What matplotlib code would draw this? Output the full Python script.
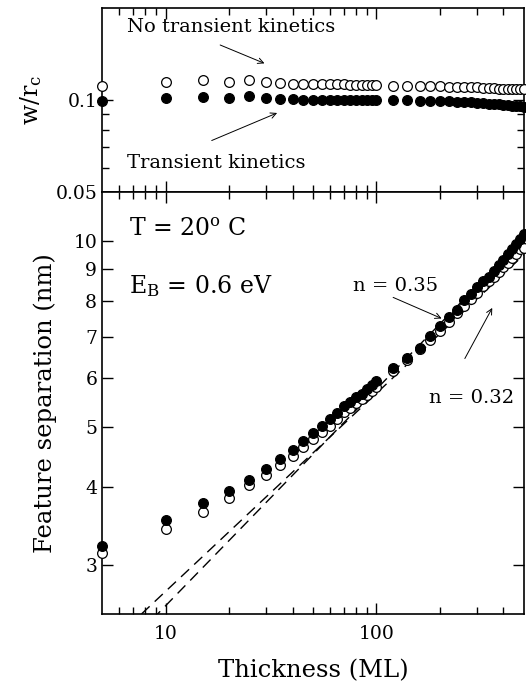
import numpy as np
import matplotlib
matplotlib.use('Agg')
import matplotlib.pyplot as plt
from matplotlib.ticker import FixedLocator, FixedFormatter, NullFormatter

plt.rcParams['font.family'] = ['DejaVu Serif']
plt.rcParams['mathtext.fontset'] = 'dejavuserif'

# film thickness (ML)
thickness = [5, 10, 15, 20, 25, 30, 35, 40, 45, 50, 55, 60, 65, 70, 75, 80, 85, 90, 95, 100,
             120, 140, 160, 180, 200, 220, 240, 260, 280, 300, 320, 340, 360, 380, 400,
             420, 440, 460, 480, 500]

# w/r_c ratio
ratio_no_transient = [0.111, 0.115, 0.116, 0.115, 0.116, 0.115, 0.114, 0.113, 0.113, 0.113,
                      0.1128, 0.1125, 0.1125, 0.1125, 0.1122, 0.112, 0.112, 0.112, 0.112, 0.112,
                      0.1115, 0.1115, 0.1113, 0.111, 0.111, 0.1105, 0.1105, 0.110, 0.110, 0.110,
                      0.1095, 0.1095, 0.1093, 0.109, 0.109, 0.1089, 0.1088, 0.1087, 0.1086, 0.1085]
ratio_transient = [0.0993, 0.1017, 0.1022, 0.1017, 0.1028, 0.1017, 0.101, 0.101, 0.1003, 0.1002,
                   0.1000, 0.1000, 0.0999, 0.0999, 0.0998, 0.0998, 0.0998, 0.0998, 0.0998, 0.0998,
                   0.1002, 0.1002, 0.0996, 0.0994, 0.0993, 0.0991, 0.0989, 0.0986, 0.0983, 0.098,
                   0.0977, 0.0974, 0.0971, 0.0968, 0.0965, 0.0962, 0.0959, 0.0956, 0.0953, 0.095]

# feature separation (nm)
sep_transient = [3.22, 3.54, 3.77, 3.94, 4.11, 4.28, 4.45, 4.60, 4.76, 4.90, 5.03, 5.16, 5.28,
                 5.41, 5.50, 5.59, 5.67, 5.76, 5.85, 5.94, 6.24, 6.48, 6.72, 7.02, 7.29, 7.54,
                 7.75, 8.02, 8.22, 8.43, 8.61, 8.76, 8.94, 9.14, 9.32, 9.52, 9.70, 9.88, 10.06, 10.25]
sep_no_transient = [3.13, 3.43, 3.65, 3.85, 4.03, 4.19, 4.35, 4.49, 4.65, 4.78, 4.91, 5.03, 5.16,
                    5.29, 5.38, 5.47, 5.55, 5.64, 5.73, 5.81, 6.16, 6.42, 6.68, 6.92, 7.16, 7.41,
                    7.64, 7.85, 8.07, 8.25, 8.46, 8.61, 8.73, 8.91, 9.09, 9.23, 9.40, 9.52, 9.70, 9.76]

# power law fits d = A * h^n
fit_exponent = [0.35, 0.32]
fit_prefactor = [1.15, 1.30]

fig = plt.figure(figsize=(5.26, 6.88), dpi=100)
ax1 = fig.add_axes([0.194, 0.721, 0.802, 0.267])
ax2 = fig.add_axes([0.194, 0.108, 0.802, 0.613], sharex=ax1)

ms = 7.0
ax1.plot(thickness, ratio_no_transient, 'o', ms=ms, mfc='white', mec='black', mew=0.9, clip_on=False, zorder=3)
ax1.plot(thickness, ratio_transient, 'o', ms=ms, mfc='black', mec='black', mew=0.9, clip_on=False, zorder=3)

h = np.array([5.0, 500.0])
for n, a in zip(fit_exponent, fit_prefactor):
    ax2.plot(h, a * h ** n, color='black', lw=1.0, dashes=(8, 5), zorder=1)
ax2.plot(thickness, sep_no_transient, 'o', ms=ms, mfc='white', mec='black', mew=0.9, clip_on=False, zorder=3)
ax2.plot(thickness, sep_transient, 'o', ms=ms, mfc='black', mec='black', mew=0.9, clip_on=False, zorder=4)

for ax in (ax1, ax2):
    ax.set_xscale('log')
    ax.set_yscale('log')
    for s in ax.spines.values():
        s.set_linewidth(1.2)
    ax.tick_params(which='both', direction='in', top=True, right=True, width=1.0, labelsize=13.5)
    ax.tick_params(which='major', length=8)
    ax.tick_params(which='minor', length=5)

ax1.set_xlim(5, 500)
ax1.set_ylim(0.05, 0.2)
ax1.yaxis.set_major_locator(FixedLocator([0.05, 0.1]))
ax1.yaxis.set_major_formatter(FixedFormatter(['0.05', '0.1']))
ax1.yaxis.set_minor_locator(FixedLocator([0.06, 0.07, 0.08, 0.09]))
ax1.yaxis.set_minor_formatter(NullFormatter())
ax1.tick_params(labelbottom=False)
ax1.set_ylabel(r'w/r$_\mathrm{c}$', fontsize=17, labelpad=8)

ax2.set_ylim(2.5, 12)
yt = [3, 4, 5, 6, 7, 8, 9, 10]
ax2.yaxis.set_major_locator(FixedLocator(yt))
ax2.yaxis.set_major_formatter(FixedFormatter([str(v) for v in yt]))
ax2.yaxis.set_minor_locator(FixedLocator([]))
ax2.yaxis.set_minor_formatter(NullFormatter())
ax2.xaxis.set_major_locator(FixedLocator([10, 100]))
ax2.xaxis.set_major_formatter(FixedFormatter(['10', '100']))
ax2.xaxis.set_minor_locator(FixedLocator([6, 7, 8, 9, 20, 30, 40, 50, 60, 70, 80, 90,
                                          200, 300, 400]))
ax2.xaxis.set_minor_formatter(NullFormatter())
ax2.tick_params(axis='x', pad=8)
ax2.set_xlabel('Thickness (ML)', fontsize=17.5, labelpad=12)
ax2.set_ylabel('Feature separation (nm)', fontsize=17.5, labelpad=12)

arrow = dict(arrowstyle='->', lw=0.7, color='black', shrinkA=0, shrinkB=0)
ax1.text(0.06, 0.87, 'No transient kinetics', transform=ax1.transAxes, fontsize=14)
ax1.annotate('', xy=(0.385, 0.70), xytext=(0.28, 0.80), xycoords='axes fraction', arrowprops=arrow)
ax1.text(0.06, 0.13, 'Transient kinetics', transform=ax1.transAxes, fontsize=14)
ax1.annotate('', xy=(0.415, 0.43), xytext=(0.26, 0.28), xycoords='axes fraction', arrowprops=arrow)

ax2.text(0.065, 0.895, r'T = 20$^\mathrm{o}$ C', transform=ax2.transAxes, fontsize=17)
ax2.text(0.065, 0.76, r'E$_\mathrm{B}$ = 0.6 eV', transform=ax2.transAxes, fontsize=17)
ax2.text(0.595, 0.765, 'n = 0.35', transform=ax2.transAxes, fontsize=14)
ax2.annotate('', xy=(0.805, 0.70), xytext=(0.69, 0.75), xycoords='axes fraction', arrowprops=arrow)
ax2.text(0.775, 0.50, 'n = 0.32', transform=ax2.transAxes, fontsize=14)
ax2.annotate('', xy=(0.925, 0.725), xytext=(0.86, 0.605), xycoords='axes fraction', arrowprops=arrow)

fig.savefig('out.png', dpi=100)
